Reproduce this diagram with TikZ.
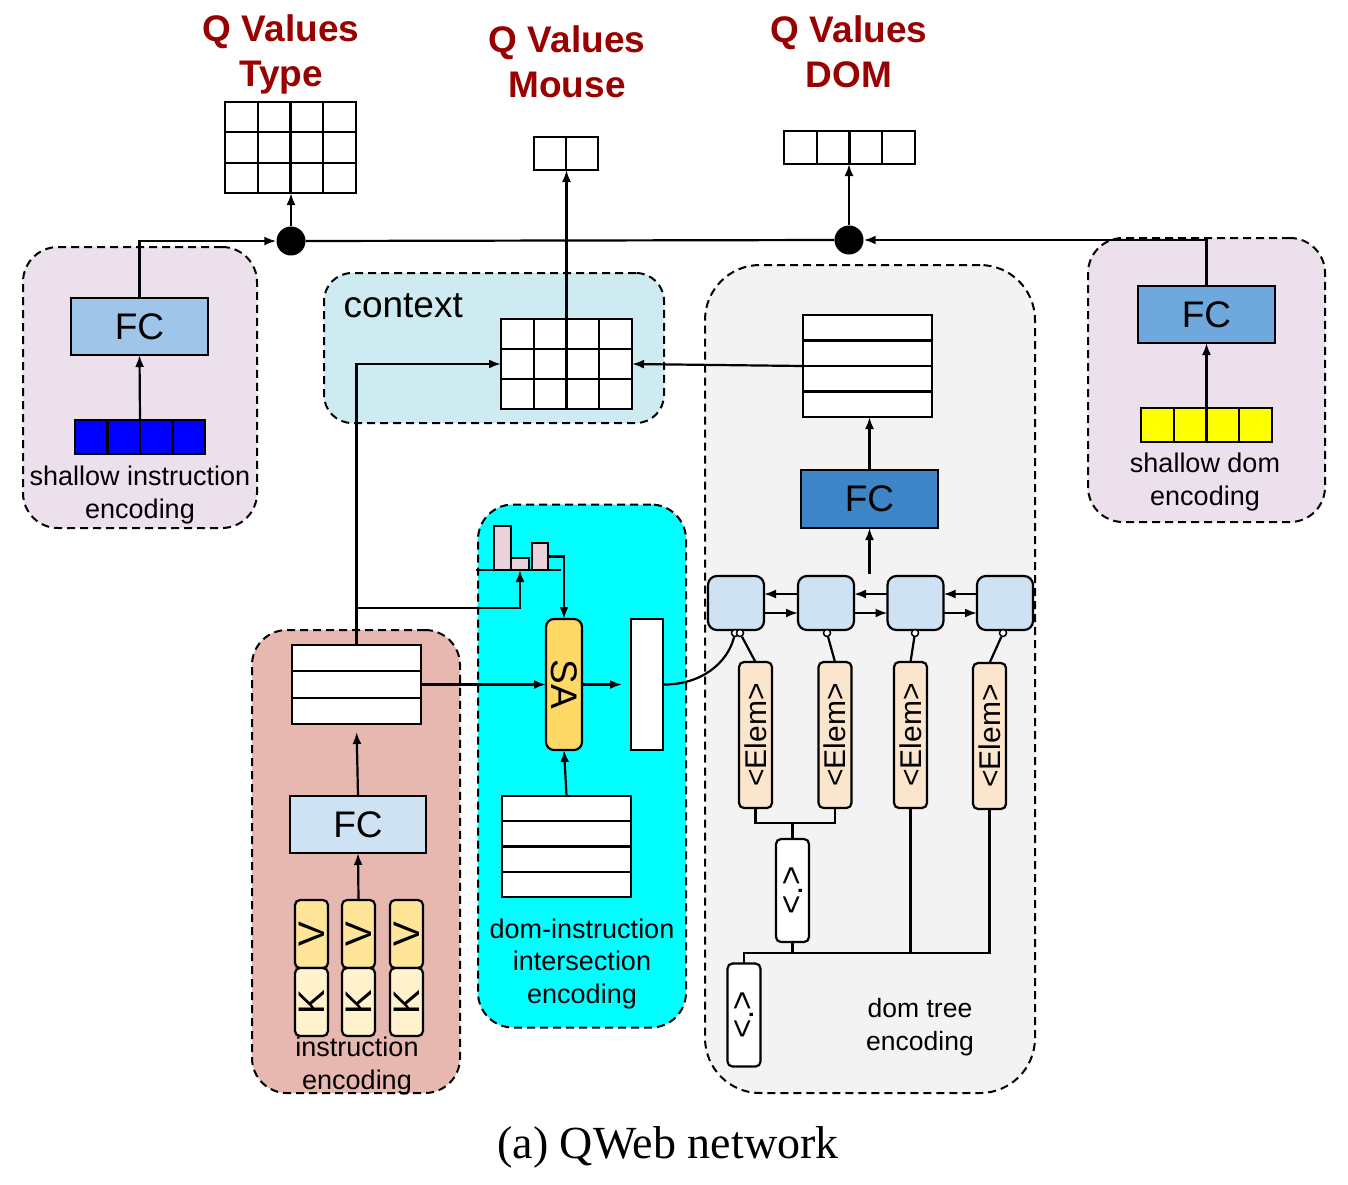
\documentclass[tikz,border=0pt]{standalone}
\usepackage{fontspec}
\setmainfont{Liberation Sans}
\newfontfamily\capserif{Liberation Serif}
\usetikzlibrary{arrows.meta,calc}
\definecolor{qred}{RGB}{153,0,0}
\definecolor{lav}{RGB}{237,224,237}
\definecolor{fca}{RGB}{159,197,232}
\definecolor{fcb}{RGB}{111,168,220}
\definecolor{fcc}{RGB}{61,133,198}
\definecolor{fcd}{RGB}{207,226,243}
\definecolor{ctxc}{RGB}{205,235,240}
\definecolor{grayc}{RGB}{243,243,243}
\definecolor{elemc}{RGB}{252,229,205}
\definecolor{salmon}{RGB}{230,184,175}
\definecolor{vcol}{RGB}{255,229,153}
\definecolor{kcol}{RGB}{255,242,204}
\definecolor{sac}{RGB}{255,217,102}
\definecolor{pinkc}{RGB}{234,209,220}
\definecolor{cyanc}{RGB}{0,255,255}
\definecolor{bluec}{RGB}{0,0,255}
\definecolor{yelc}{RGB}{255,255,0}
\newcommand\fsz[2]{\fontsize{#1}{#2}\selectfont}
\newcommand\mkvl[2]{\pgfmathtruncatemacro\nn{#2-1}\foreach \i in {1,...,\nn}{\draw[ln] ($(#1.north west)!\i/#2!(#1.north east)$) -- ($(#1.south west)!\i/#2!(#1.south east)$);}}
\newcommand\mkhl[2]{\pgfmathtruncatemacro\nn{#2-1}\foreach \i in {1,...,\nn}{\draw[ln] ($(#1.north west)!\i/#2!(#1.south west)$) -- ($(#1.north east)!\i/#2!(#1.south east)$);}}
\begin{document}
\begin{tikzpicture}[x=1pt,y=-1pt,
  ln/.style={line width=2.2pt},
  box/.style={draw, line width=2.2pt, inner sep=0pt, outer sep=0pt},
  grp/.style={draw, line width=2pt, dash pattern=on 8pt off 5pt, inner sep=0pt, outer sep=0pt},
  arr/.style={-{Latex[length=12pt,width=9pt]}, line width=2.2pt},
  qtitle/.style={text=qred, font=\bfseries\fsz{37}{45}, align=center},
  fc/.style={box, font=\fsz{37}{40}},
  small/.style={circle, draw, fill=white, line width=1.5pt, minimum size=7pt, inner sep=0pt},
  elem/.style={box, fill=elemc, rounded corners=5pt, minimum width=33pt, minimum height=146pt},
  lstm/.style={box, fill=fcd, rounded corners=9pt, minimum width=56pt, minimum height=54pt},
  dotb/.style={box, fill=white, rounded corners=5pt, minimum width=33pt, minimum height=103pt},
  kv/.style={box, rounded corners=5pt, minimum width=33pt, minimum height=68pt},
  lab/.style={font=\fsz{27}{33}, align=center},
]
\useasboundingbox (0,0) rectangle (1348,1184);
\fill[white] (0,0) rectangle (1348,1184);

% ---------- group backgrounds ----------
\node[grp, fill=lav, rounded corners=35pt, minimum width=234pt, minimum height=281pt] (gl) at (140,387.5) {};
\node[grp, fill=lav, rounded corners=35pt, minimum width=237pt, minimum height=284pt] (gr) at (1206.5,380) {};
\node[grp, fill=ctxc, rounded corners=28pt, minimum width=340pt, minimum height=150pt] (gc) at (494,348) {};
\node[grp, fill=grayc, rounded corners=55pt, minimum width=330pt, minimum height=828pt] (gd) at (870,679) {};
\node[grp, fill=cyanc, rounded corners=35pt, minimum width=208pt, minimum height=523pt] (gi) at (582,766) {};
\node[grp, fill=salmon, rounded corners=35pt, minimum width=208pt, minimum height=463pt] (gs) at (356,861.5) {};

% ---------- titles ----------
\node[qtitle] (t1) at (281,54) {Q Values\\Type};
\node[qtitle] (t2) at (567,62) {Q Values\\Mouse};
\node[qtitle] (t3) at (849,52) {Q Values\\DOM};

% ---------- output grids ----------
\node[box, fill=white, minimum width=131pt, minimum height=91pt] (tg) at (290.5,147.5) {};
\mkvl{tg}{4}\mkhl{tg}{3}
\node[box, fill=white, minimum width=64pt, minimum height=33pt] (mg) at (566,153.5) {};
\mkvl{mg}{2}
\node[box, fill=white, minimum width=131pt, minimum height=33pt] (dg) at (849.5,147.5) {};
\mkvl{dg}{4}

% ---------- dots ----------
\node[circle, fill=black, minimum size=29pt, inner sep=0pt] (dot1) at (291,241) {};
\node[circle, fill=black, minimum size=29pt, inner sep=0pt] (dot2) at (849,240) {};

% ---------- shallow instruction ----------
\node[fc, fill=fca, minimum width=137pt, minimum height=57pt] (lfc) at (139.5,326.5) {FC};
\node[box, fill=bluec, minimum width=130pt, minimum height=34pt] (lcells) at (140,437) {};
\mkvl{lcells}{4}
\node[lab] (llab) at (140,495) {shallow instruction\\encoding};

% ---------- shallow dom ----------
\node[fc, fill=fcb, minimum width=137pt, minimum height=57pt] (rfc) at (1206.5,314.5) {FC};
\node[box, fill=yelc, minimum width=131pt, minimum height=34pt] (rcells) at (1206.5,425) {};
\mkvl{rcells}{4}
\node[lab] (rlab) at (1205,482) {shallow dom\\encoding};

% ---------- context ----------
\node[font=\fsz{37}{40}, anchor=west] (ctxl) at (340,306) {context};
\node[box, fill=white, minimum width=131pt, minimum height=90pt] (cg) at (566.5,364) {};
\mkvl{cg}{4}\mkhl{cg}{3}

% ---------- dom tree ----------
\node[box, fill=white, minimum width=129pt, minimum height=102pt] (dt) at (867.5,366) {};
\mkhl{dt}{4}
\node[fc, fill=fcc, minimum width=137pt, minimum height=58pt] (dfc) at (869.5,499) {FC};
\node[lstm] (l1) at (736,603) {};
\node[lstm] (l2) at (826,603) {};
\node[lstm] (l3) at (915.5,603) {};
\node[lstm] (l4) at (1005,603) {};
\coordinate (lout) at (869.5,574);
\node[small] (c1a) at (735,633) {};
\node[small] (c1b) at (740,633) {};
\node[small] (c2) at (827,633) {};
\node[small] (c3) at (915,633) {};
\node[small] (c4) at (1003,633) {};
\node[elem] (e1) at (755.5,735) {};
\node[elem] (e2) at (835,735) {};
\node[elem] (e3) at (910.5,735) {};
\node[elem] (e4) at (989.5,736) {};
\foreach \e in {e1,e2,e3,e4}{\node[rotate=90, font=\fsz{30}{32}] at (\e) {<Elem>};}
\node[dotb] (p1) at (792.5,890.5) {};
\node[dotb] (p2) at (744,1015) {};
\foreach \p in {p1,p2}{\node[rotate=90, font=\fsz{33}{35}] at (\p) {<.>};}
\coordinate (j1) at (792.5,823);
\coordinate (j2) at (792.5,953);
\node[lab, font=\fsz{26.5}{33}] (dlab) at (920,1027) {dom tree\\encoding};

% ---------- dom-instruction intersection ----------
\node[box, fill=pinkc, minimum width=17pt, minimum height=44pt] (h1) at (502.5,548) {};
\node[box, fill=pinkc, minimum width=18pt, minimum height=12pt] (h2) at (520,564) {};
\node[box, fill=pinkc, minimum width=16pt, minimum height=27pt] (h3) at (540,556.5) {};
\coordinate (hl) at (476,570);
\coordinate (hr) at (561,570);
\coordinate (hb) at (520,570);
\node[box, fill=sac, rounded corners=8pt, minimum width=36pt, minimum height=131pt] (sa) at (564,684.5) {};
\node[rotate=-90, font=\fsz{37}{40}] at (sa) {SA};
\node[box, fill=white, minimum width=32pt, minimum height=131pt] (wb) at (647,684.5) {};
\node[box, fill=white, minimum width=129pt, minimum height=101pt] (dit) at (566.5,846.5) {};
\mkhl{dit}{4}
\node[lab] (ilab) at (582,964) {dom-instruction\\intersection\\encoding};

% ---------- instruction encoding ----------
\node[box, fill=white, minimum width=129pt, minimum height=79pt] (it) at (356.5,684.5) {};
\mkhl{it}{3}
\node[fc, fill=fcd, minimum width=136pt, minimum height=57pt] (ifc) at (358,824.5) {FC};
\foreach \n/\x in {1/311.5,2/358.5,3/406.5}{
  \node[kv, fill=vcol] (v\n) at (\x,934) {};
  \node[kv, fill=kcol] (k\n) at (\x,1002) {};
  \node[rotate=90, font=\fsz{37}{40}] at (v\n) {V};
  \node[rotate=90, font=\fsz{37}{40}] at (k\n) {K};
}
\node[lab] (slab) at (357,1066) {instruction\\encoding};
\coordinate (br) at (356.5,608);

% ---------- connectors ----------
\draw[arr] (lfc.north) |- (dot1.west);
\draw[ln] (dot1.east) -- (dot2.west);
\draw[arr] (rfc.north) |- (dot2.east);
\draw[arr] (dot1.north) -- (dot1.north |- tg.south);
\draw[arr] (dot2.north) -- (dot2.north |- dg.south);
\draw[arr] (cg.north) -- (cg.north |- mg.south);
\draw[arr] (lcells.north) -- (lfc.south);
\draw[arr] (rcells.north) -- (rfc.south);
\draw[arr] (it.north) |- (cg.west);
\draw[arr] (dt.west) -- (cg.east);
\draw[arr] (br) -| (hb);
\draw[ln] (hl) -- (hr);
\draw[arr] (h3.east) -| (sa.north);
\draw[arr] (it.east) -- (sa.west);
\draw[arr, shorten >=9pt] (sa.east) -- (wb.west);
\draw[arr] (dit.north) -- (sa.south);
\draw[arr, shorten >=8pt] (ifc.north) -- (it.south);
\draw[arr] (v2.north) -- (ifc.south);
\draw[arr] (dfc.north) -- (dfc.north |- dt.south);
\draw[arr] (lout) -- (lout |- dfc.south);
\draw[arr] ([yshift=9pt]l2.west) -- ([yshift=9pt]l1.east);
\draw[arr] ([yshift=9pt]l3.west) -- ([yshift=9pt]l2.east);
\draw[arr] ([yshift=9pt]l4.west) -- ([yshift=9pt]l3.east);
\draw[arr] ([yshift=-10pt]l1.east) -- ([yshift=-10pt]l2.west);
\draw[arr] ([yshift=-10pt]l2.east) -- ([yshift=-10pt]l3.west);
\draw[arr] ([yshift=-10pt]l3.east) -- ([yshift=-10pt]l4.west);
\draw[ln] (c1b) -- (e1.north);
\draw[ln] (c2) -- (e2.north);
\draw[ln] (c3) -- (e3.north);
\draw[ln] (c4) -- (e4.north);
\draw[ln] (wb.east) .. controls (702,685) and (728,662) .. (c1a);
\draw[ln] (e1.south) |- (j1) -| (e2.south);
\draw[ln] (j1) -- (p1.north);
\draw[ln] (p1.south) -- (j2);
\draw[ln] (e3.south) |- (j2);
\draw[ln] (e4.south) |- (j2);
\draw[ln] (j2) -| (p2.north);

% ---------- caption ----------
\node[font=\capserif\fsz{46}{50}] (cap) at (668,1147) {(a) QWeb network};
\end{tikzpicture}
\end{document}
